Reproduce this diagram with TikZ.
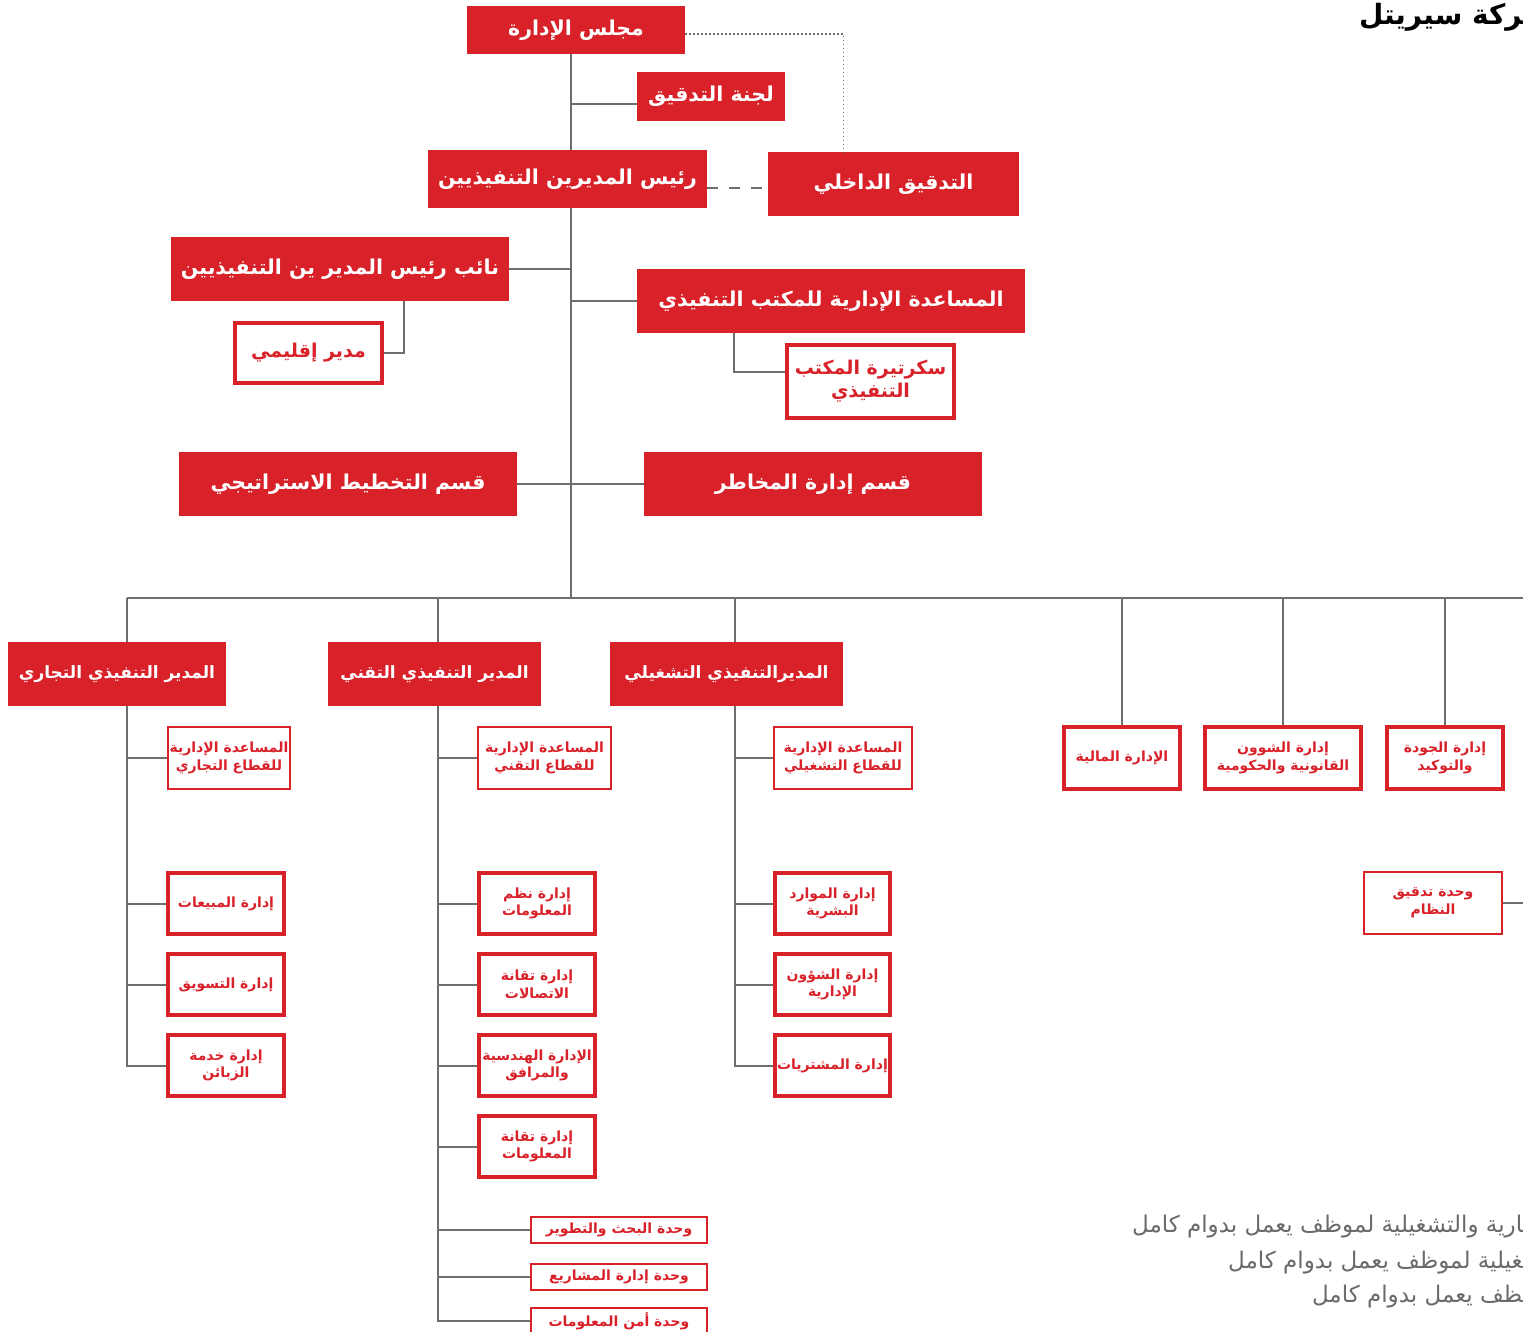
\documentclass[tikz,border=0pt]{standalone}
\usepackage{fontspec}
\newfontfamily\arabicfont[Script=Arabic]{DejaVu Sans}
\TeXXeTstate=1
\definecolor{cred}{HTML}{D92129}
\definecolor{cline}{HTML}{6E6E6E}
\definecolor{cgray}{HTML}{6A6A6A}
\newcommand{\ar}[1]{\beginR #1\endR}
\newcommand{\bx}[7]{\node[#2, minimum width={(#5-#3)*1pt}, minimum height={(#6-#4)*1pt}] (#1) at ({(#3+#5)/2},{(#4+#6)/2}) {#7};}
\tikzset{
  fillbox/.style={fill=cred, draw=none, text=white, inner sep=0pt, align=center,
    font=\arabicfont\bfseries\fontsize{20.5}{24}\selectfont},
  execbox/.style={fillbox, font=\arabicfont\bfseries\fontsize{17}{20}\selectfont},
  thickbox/.style={draw=cred, line width=3.4pt, fill=white, text=cred, inner sep=0pt, align=center,
    font=\arabicfont\bfseries\fontsize{14}{17.5}\selectfont},
  bigthick/.style={thickbox, font=\arabicfont\bfseries\fontsize{19}{23}\selectfont},
  thinbox/.style={thickbox, line width=1.3pt},
  conn/.style={draw=cline, line width=2pt},
}
\begin{document}
\begin{tikzpicture}[x=1pt,y=-1pt]
\useasboundingbox (0,0) rectangle (1523,1331);
\clip (0,0) rectangle (1523,1331);
% title and notes (cut at the right edge, as in the reference)
\node[anchor=east, inner sep=0pt, font=\arabicfont\bfseries\fontsize{28}{32}\selectfont] (title) at (1523,17) {\ar{^^^^200dركة سيريتل}};
\node[anchor=east, inner sep=0pt, text=cgray, font=\arabicfont\fontsize{23}{27}\selectfont] (note1) at (1523,1227) {\ar{^^^^200dارية والتشغيلية لموظف يعمل بدوام كامل}};
\node[anchor=east, inner sep=0pt, text=cgray, font=\arabicfont\fontsize{23}{27}\selectfont] (note2) at (1523,1263) {\ar{^^^^200dغيلية لموظف يعمل بدوام كامل}};
\node[anchor=east, inner sep=0pt, text=cgray, font=\arabicfont\fontsize{23}{27}\selectfont] (note3) at (1523,1297) {\ar{^^^^200dظف يعمل بدوام كامل}};
% coordinates
\coordinate (tr) at (571,54);
\coordinate (trb) at (571,598);
\coordinate (c1) at (127,598);
\coordinate (c2) at (438,598);
\coordinate (c3) at (735,598);
\coordinate (busR) at (1523,598);
\coordinate (redge) at (1523,904);
% connectors first (under boxes)
\draw[conn] (tr) -- (trb);
\draw[conn] (c1) -- (busR);
% filled boxes
\bx{board}{fillbox}{467}{6}{685}{54}{\ar{مجلس الإدارة}}
\bx{auditc}{fillbox}{637}{72}{785}{121}{\ar{لجنة التدقيق}}
\bx{ceo}{fillbox}{428}{150}{707}{208}{\ar{رئيس المديرين التنفيذيين}}
\bx{ia}{fillbox}{768}{152}{1019}{216}{\ar{التدقيق الداخلي}}
\bx{vp}{fillbox}{171}{237}{509}{301}{\ar{نائب رئيس المدير ين التنفيذيين}}
\bx{ea}{fillbox}{637}{269}{1025}{333}{\ar{المساعدة الإدارية للمكتب التنفيذي}}
\bx{strat}{fillbox}{179}{452}{517}{516}{\ar{قسم التخطيط الاستراتيجي}}
\bx{risk}{fillbox}{644}{452}{982}{516}{\ar{قسم إدارة المخاطر}}
\bx{com}{execbox}{8}{642}{226}{706}{\ar{المدير التنفيذي التجاري}}
\bx{tech}{execbox}{328}{642}{541}{706}{\ar{المدير التنفيذي التقني}}
\bx{ops}{execbox}{610}{642}{843}{706}{\ar{المديرالتنفيذي التشغيلي}}
% outlined boxes
\bx{reg}{bigthick}{235}{323}{382}{383}{\ar{مدير إقليمي}}
\bx{sec}{bigthick}{787}{345}{954}{418}{\ar{سكرتيرة المكتب}\\\ar{التنفيذي}}
\bx{fin}{thickbox}{1064}{727}{1180}{789}{\ar{الإدارة المالية}}
\bx{legal}{thickbox}{1205}{727}{1361}{789}{\ar{إدارة الشوون}\\\ar{القانونية والحكومية}}
\bx{qual}{thickbox}{1387}{727}{1503}{789}{\ar{إدارة الجودة}\\\ar{والتوكيد}}
\bx{sysa}{thinbox}{1364}{872}{1502}{934}{\ar{وحدة تدقيق}\\\ar{النظام}}
\bx{ca1}{thinbox}{168}{727}{290}{789}{\ar{المساعدة الإدارية}\\\ar{للقطاع التجاري}}
\bx{ca2}{thinbox}{478}{727}{611}{789}{\ar{المساعدة الإدارية}\\\ar{للقطاع التقني}}
\bx{ca3}{thinbox}{774}{727}{912}{789}{\ar{المساعدة الإدارية}\\\ar{للقطاع التشغيلي}}
\bx{sales}{thickbox}{168}{873}{284}{934}{\ar{إدارة المبيعات}}
\bx{mkt}{thickbox}{168}{954}{284}{1015}{\ar{إدارة التسويق}}
\bx{cs}{thickbox}{168}{1035}{284}{1096}{\ar{إدارة خدمة}\\\ar{الزبائن}}
\bx{isd}{thickbox}{479}{873}{595}{934}{\ar{إدارة نظم}\\\ar{المعلومات}}
\bx{tc}{thickbox}{479}{954}{595}{1015}{\ar{إدارة تقانة}\\\ar{الاتصالات}}
\bx{eng}{thickbox}{479}{1035}{595}{1096}{\ar{الإدارة الهندسية}\\\ar{والمرافق}}
\bx{it}{thickbox}{479}{1116}{595}{1177}{\ar{إدارة تقانة}\\\ar{المعلومات}}
\bx{rd}{thinbox}{531}{1217}{707}{1243}{\ar{وحدة البحث والتطوير}}
\bx{pm}{thinbox}{531}{1264}{707}{1290}{\ar{وحدة إدارة المشاريع}}
\bx{secu}{thinbox}{531}{1308}{707}{1334}{\ar{وحدة أمن المعلومات}}
\bx{hr}{thickbox}{775}{873}{890}{934}{\ar{إدارة الموارد}\\\ar{البشرية}}
\bx{adm}{thickbox}{775}{954}{890}{1015}{\ar{إدارة الشؤون}\\\ar{الإدارية}}
\bx{proc}{thickbox}{775}{1035}{890}{1096}{\ar{إدارة المشتريات}}
% upper connectors
\draw[conn] ([yshift=-7pt]auditc.west -| tr) -- ([yshift=-7pt]auditc.west);
\draw[draw=cline, line width=2pt, dash pattern=on 11pt off 11pt] ([yshift=-9pt]ceo.east) -- ([yshift=-4pt]ia.west);
\draw[draw=cline, line width=1.6pt, dash pattern=on 1.6pt off 2.4pt] ([yshift=-4pt]board.east) -| ([xshift=-50pt]ia.north);
\draw[conn] (vp.east) -- (vp.east -| tr);
\draw[conn] (ea.west) -- (ea.west -| tr);
\draw[conn] ([xshift=64pt]vp.south) |- (reg.east);
\draw[conn] ([xshift=-97pt]ea.south) |- ([yshift=10pt]sec.west);
\draw[conn] (strat.east) -- (risk.west);
% drops from bus
\draw[conn] (c1) -- (com.north -| c1);
\draw[conn] (c2) -- (tech.north -| c2);
\draw[conn] (c3) -- (ops.north -| c3);
\draw[conn] (fin.north |- c1) -- (fin.north);
\draw[conn] (legal.north |- c1) -- (legal.north);
\draw[conn] (qual.north |- c1) -- (qual.north);
\draw[conn] (sysa.east) -- (sysa.east -| redge);
% commercial column
\draw[conn] (com.south -| c1) -- (cs.west -| c1) -- (cs.west);
\draw[conn] (ca1.west -| c1) -- (ca1.west);
\draw[conn] (sales.west -| c1) -- (sales.west);
\draw[conn] (mkt.west -| c1) -- (mkt.west);
% technical column
\draw[conn] (tech.south -| c2) -- (secu.west -| c2) -- (secu.west);
\draw[conn] (ca2.west -| c2) -- (ca2.west);
\draw[conn] (isd.west -| c2) -- (isd.west);
\draw[conn] (tc.west -| c2) -- (tc.west);
\draw[conn] (eng.west -| c2) -- (eng.west);
\draw[conn] (it.west -| c2) -- (it.west);
\draw[conn] (rd.west -| c2) -- (rd.west);
\draw[conn] (pm.west -| c2) -- (pm.west);
% operations column
\draw[conn] (ops.south -| c3) -- (proc.west -| c3) -- (proc.west);
\draw[conn] (ca3.west -| c3) -- (ca3.west);
\draw[conn] (hr.west -| c3) -- (hr.west);
\draw[conn] (adm.west -| c3) -- (adm.west);
\end{tikzpicture}
\end{document}
